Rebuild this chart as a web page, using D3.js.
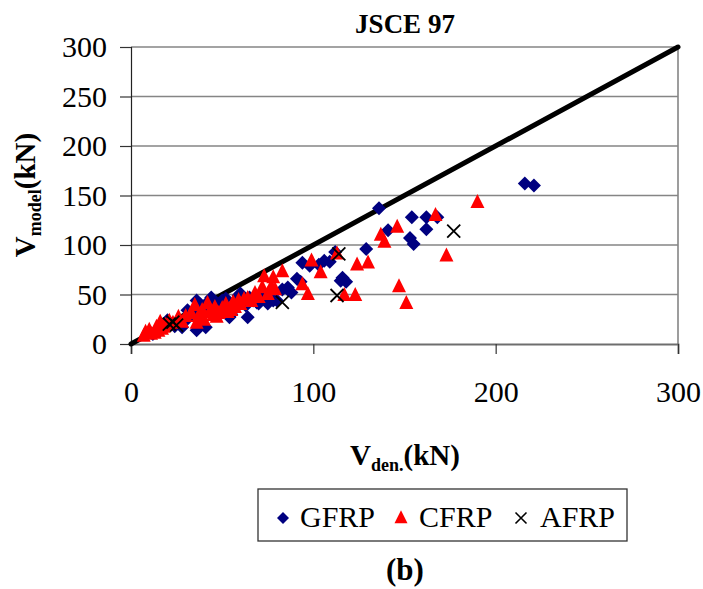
<!DOCTYPE html>
<html>
<head>
<meta charset="utf-8">
<script src="https://cdn.jsdelivr.net/npm/d3@7"></script>
<style>
  html, body { margin: 0; padding: 0; background: #fff; }
  svg { display: block; }
  svg text { font-family: "Liberation Serif", "Times New Roman", Times, "DejaVu Serif", serif !important; fill: #000; }
</style>
</head>
<body>
<svg id="chart" width="703" height="589"></svg>
<script>
// Shear capacity: experimental (x) vs. JSCE 97 prediction (y), kN
const gfrpX = [12,16,19,20,24,28,29,31,31,34,36,36,38,40,41,42,43,44,47,48,49,50,52,54,55,57,59,60,62,63,64,65,67,69,70,72,75,75,77,78,80,83,86,86,88,91,93,94,98,103,106,109,112,115,116,118,129,136,141,154,162,168,162,153,155,216,221];
const gfrpY = [10,14,20,24,18,17,22,26,34,30,14,44,40,36,17,38,44,47,33,40,42,44,46,27,30,40,49,51,45,39,27,47,44,42,41,48,41,42,46,44,44,55,57,55,52,66,63,82,79,80,84,83,93,64,67,63,96,137,115,128,128,128,116,107,101,162,160];

const cfrpX = [7,8,10,11,13,14,15,16,17,18,19,21,23,26,28,30,33,35,36,37,39,40,42,43,45,46,47,48,50,51,52,53,55,56,57,59,60,62,64,66,68,70,72,73,75,77,78,79,83,94,97,99,104,113,117,123,124,130,137,139,146,147,151,167,173,190];
const cfrpY = [8,12,14,10,11,17,13,22,15,17,19,23,21,27,22,28,31,39,21,28,34,24,41,32,29,37,27,31,36,32,40,32,34,42,37,44,40,45,46,43,51,47,57,68,50,58,67,55,73,60,50,84,72,91,49,49,80,82,110,103,118,58,41,130,89,143];

const afrpX = [21,23,25,83,113,114,177];
const afrpY = [20,22,19,42,49,91,114];

// 1:1 reference line
const lineX = [0, 300];
const lineY = [0, 300];

const xTicks = [0, 100, 200, 300];
const yTicks = [0, 50, 100, 150, 200, 250, 300];

const seriesNames = ["GFRP", "CFRP", "AFRP"];
const seriesColors = ["#000080", "#ff0000", "#000000"];

const SERIF = "'Liberation Serif', 'Times New Roman', Times, 'DejaVu Serif', serif";

const svg = d3.select("#chart").attr("font-family", SERIF);
const x = d3.scaleLinear().domain([0, 300]).range([131, 678]);
const y = d3.scaleLinear().domain([0, 300]).range([344, 47]);

// horizontal gridlines
svg.append("g").selectAll("line")
  .data(yTicks.filter(v => v > 0))
  .join("line")
  .attr("x1", x(0)).attr("x2", x(300))
  .attr("y1", d => y(d)).attr("y2", d => y(d))
  .attr("stroke", "#858585").attr("stroke-width", 1.6);

// right border of plot area
svg.append("line")
  .attr("x1", x(300)).attr("x2", x(300))
  .attr("y1", y(300)).attr("y2", y(0))
  .attr("stroke", "#858585").attr("stroke-width", 1.6);

// x axis
const gx = svg.append("g")
  .attr("transform", `translate(0,${y(0)})`)
  .call(d3.axisBottom(x).tickValues(xTicks).tickSize(10).tickPadding(27).tickFormat(d3.format("d")))
  .attr("font-family", SERIF).attr("font-size", 30);
gx.select(".domain").attr("stroke", "#6e6e6e").attr("stroke-width", 1.8);
gx.selectAll(".tick line").attr("stroke", "#333").attr("stroke-width", 1.2);

// y axis
const gy = svg.append("g")
  .attr("transform", `translate(${x(0)},0)`)
  .call(d3.axisLeft(y).tickValues(yTicks).tickSize(11).tickPadding(13).tickFormat(d3.format("d")))
  .attr("font-family", SERIF).attr("font-size", 30);
gy.select(".domain").attr("stroke", "#222").attr("stroke-width", 1.2);
gy.selectAll(".tick line").attr("stroke", "#333").attr("stroke-width", 1.2);

// 1:1 line
svg.append("path")
  .datum(lineX.map((v, i) => [v, lineY[i]]))
  .attr("d", d3.line().x(d => x(d[0])).y(d => y(d[1])))
  .attr("fill", "none").attr("stroke", "#000").attr("stroke-width", 5)
  .attr("stroke-linecap", "round");

// marker shapes
function diamondPath(s) { return `M0,${-s}L${s},0L0,${s}L${-s},0Z`; }
function trianglePath(w, h) { return `M0,${-h * 0.6}L${w / 2},${h * 0.4}L${-w / 2},${h * 0.4}Z`; }
function crossPath(s) { return `M${-s},${-s}L${s},${s}M${-s},${s}L${s},${-s}`; }

const pts = (xs, ys) => xs.map((v, i) => [v, ys[i]]);

svg.append("g").selectAll("path")
  .data(pts(gfrpX, gfrpY)).join("path")
  .attr("transform", d => `translate(${x(d[0])},${y(d[1])})`)
  .attr("d", diamondPath(7))
  .attr("fill", seriesColors[0]);

svg.append("g").selectAll("path")
  .data(pts(cfrpX, cfrpY)).join("path")
  .attr("transform", d => `translate(${x(d[0])},${y(d[1])})`)
  .attr("d", trianglePath(14, 14))
  .attr("fill", seriesColors[1]);

svg.append("g").selectAll("path")
  .data(pts(afrpX, afrpY)).join("path")
  .attr("transform", d => `translate(${x(d[0])},${y(d[1])})`)
  .attr("d", crossPath(6.5))
  .attr("fill", "none").attr("stroke", seriesColors[2]).attr("stroke-width", 1.8);

// title
svg.append("text")
  .attr("x", 405).attr("y", 33)
  .attr("text-anchor", "middle")
  .attr("font-size", 27).attr("font-weight", "bold")
  .text("JSCE 97");

// x axis title
const xt = svg.append("text")
  .attr("x", 405).attr("y", 465)
  .attr("text-anchor", "middle")
  .attr("font-size", 29).attr("font-weight", "bold");
xt.append("tspan").text("V");
xt.append("tspan").attr("dy", 6).attr("font-size", 18).text("den.");
xt.append("tspan").attr("dy", -6).text("(kN)");

// y axis title
const yt = svg.append("text")
  .attr("transform", "translate(35,195) rotate(-90)")
  .attr("text-anchor", "middle")
  .attr("font-size", 29).attr("font-weight", "bold");
yt.append("tspan").text("V");
yt.append("tspan").attr("dy", 6).attr("font-size", 18).text("model");
yt.append("tspan").attr("dy", -6).text("(kN)");

// legend
const lg = svg.append("g");
lg.append("rect")
  .attr("x", 258).attr("y", 489).attr("width", 369).attr("height", 52)
  .attr("fill", "#fff").attr("stroke", "#333").attr("stroke-width", 1.3);
const legendItems = [
  { name: seriesNames[0], mx: 283, tx: 300, d: diamondPath(6), fill: seriesColors[0], stroke: "none" },
  { name: seriesNames[1], mx: 401, tx: 419, d: trianglePath(13, 13), fill: seriesColors[1], stroke: "none" },
  { name: seriesNames[2], mx: 521, tx: 540, d: crossPath(5.5), fill: "none", stroke: seriesColors[2] }
];
legendItems.forEach(it => {
  lg.append("path")
    .attr("transform", `translate(${it.mx},518)`)
    .attr("d", it.d).attr("fill", it.fill)
    .attr("stroke", it.stroke).attr("stroke-width", 1.6);
  lg.append("text")
    .attr("x", it.tx).attr("y", 527)
    .attr("font-size", 30)
    .text(it.name);
});

// panel label
svg.append("text")
  .attr("x", 405).attr("y", 580)
  .attr("text-anchor", "middle")
  .attr("font-size", 31).attr("font-weight", "bold")
  .text("(b)");
</script>
</body>
</html>
